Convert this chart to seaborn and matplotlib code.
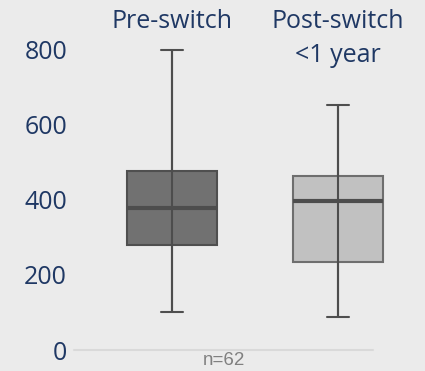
import pandas as pd
import matplotlib
matplotlib.use("Agg")
import matplotlib.pyplot as plt
import seaborn as sns

# Five-number summaries (min, q1, median, q3, max)
groups = ["Pre-switch", "Post-switch\n<1 year"]
pre_switch = [101, 280, 379, 477, 800]
post_switch = [88, 235, 397, 464, 653]
y_ticks = [0, 200, 400, 600, 800]
n_label = "n=62"

box_fill = ["#717171", "#c1c1c1"]
box_edge = ["#4f4f4f", "#6e6e6e"]
text_color = "#1f3864"
bg = "#ebebeb"

# long table: each group gets its five summary values, so quartiles land on them
df = pd.DataFrame({
    "group": [groups[0]] * len(pre_switch) + [groups[1]] * len(post_switch),
    "value": pre_switch + post_switch,
})

sns.set_theme(style="white")
plt.rcParams["font.family"] = ["Open Sans", "DejaVu Sans"]

fig = plt.figure(figsize=(4.25, 3.71), dpi=100)
fig.patch.set_facecolor(bg)
ax = fig.add_axes([74 / 425, 21 / 371, 299 / 425, 350 / 371])
ax.set_facecolor(bg)

sns.boxplot(data=df, x="group", y="value", hue="group", order=groups,
            hue_order=groups, palette=box_fill, whis=(0, 100), width=0.54,
            linecolor="#4f4f4f", linewidth=1.5, showfliers=False,
            legend=False, ax=ax,
            medianprops={"linewidth": 3.0, "color": "#4d4d4d"},
            capwidths=0.135)

for patch, ec in zip(ax.patches, box_edge):
    patch.set_edgecolor(ec)
    patch.set_alpha(1)

# whisker line runs straight through the box, like the original
summaries = [pre_switch, post_switch]
ax.vlines(range(len(groups)), [s[0] for s in summaries], [s[-1] for s in summaries],
          color="#4d4d4d", linewidth=1.5, zorder=4)

for art in ax.patches + ax.lines + ax.collections:
    art.set_clip_on(False)

ax.axhline(0, color="#d9d9d9", linewidth=1.5, clip_on=False, zorder=1)

ax.set_xlim(-0.59, 1.211)
ax.set_ylim(0, 933)
ax.set_yticks(y_ticks)
ax.set_yticklabels([str(v) for v in y_ticks], color=text_color, fontsize=18)
ax.tick_params(axis="y", length=0, pad=5)
ax.set_xticks([])
ax.set_xlabel("")
ax.set_ylabel("")
for s in ax.spines.values():
    s.set_visible(False)

# category names sit along the top of the plot
for i, g in enumerate(groups):
    ax.text(i, 0.975, g, transform=ax.get_xaxis_transform(), ha="center",
            va="top", fontsize=18, color=text_color, linespacing=1.5)

ax.text(0.5, -0.03, n_label, transform=ax.transAxes, ha="center", va="center",
        fontsize=13.5, color="#808080", family=["Liberation Sans", "DejaVu Sans"])

fig.savefig("out.png", dpi=100, facecolor=bg)
